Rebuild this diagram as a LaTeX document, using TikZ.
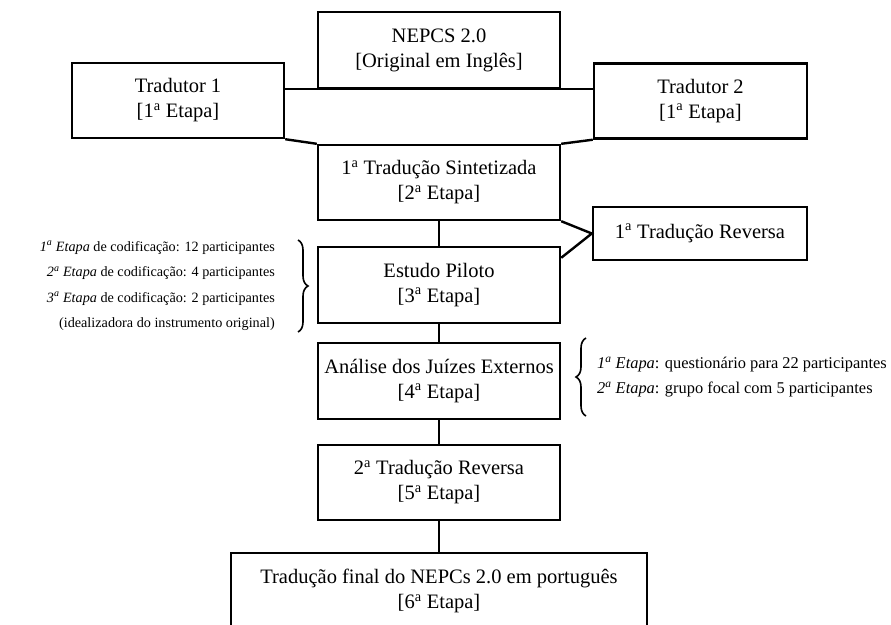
\documentclass[tikz,border=0pt]{standalone}
\usepackage{fontspec}
\setmainfont{Liberation Serif}
\usetikzlibrary{decorations.pathreplacing}
\newcommand{\aord}{\textsuperscript{a}}
\begin{document}
\begin{tikzpicture}
		[x=1pt,y=-1pt,
		etapa/.style={draw,line width=2.4pt,align=center,inner sep=0pt,
			minimum width=242pt,minimum height=76pt,font=\fontsize{20.5}{25}\selectfont},
		nota/.style={inner sep=0pt,font=\fontsize{14.2}{25.5}\selectfont},
		chave/.style={decorate,decoration={brace,amplitude=10pt},line width=1.6pt},
		liga/.style={line width=2.4pt},]
		\useasboundingbox(0,0)rectangle(891,624);
		\clip(0,0)rectangle(891,624);
		\node[etapa](nepcs) at(439,50){NEPCS 2.0\\{}[Original em Inglês]};
		\node[etapa,minimum width=212pt,minimum height=75pt](trad1) at(178,100.5){Tradutor 1\\{}[1\aord\ Etapa]};
		\node[etapa,minimum width=213pt,minimum height=75pt](trad2) at(700.5,101){Tradutor 2\\{}[1\aord\ Etapa]};
		\node[etapa,minimum height=75pt](sint) at(439,182.5){1\aord\ Tradução Sintetizada\\{}[2\aord\ Etapa]};
		\node[etapa,minimum width=214pt,minimum height=53pt](rev1) at(700,233.5){1\aord\ Tradução Reversa};
		\node[etapa](piloto) at(439,285){Estudo Piloto\\{}[3\aord\ Etapa]};
		\node[etapa](juizes) at(439,381){Análise dos Juízes Externos\\{}[4\aord\ Etapa]};
		\node[etapa,minimum height=75pt](rev2) at(439,482.5){2\aord\ Tradução Reversa\\{}[5\aord\ Etapa]};
		\node[etapa,minimum width=416pt](final) at(439,591){Tradução final do NEPCs 2.0 em português\\{}[6\aord\ Etapa]};
		\draw[liga](trad1.east |- nepcs.south)--(trad2.west |- nepcs.south);
		\draw[liga](trad1.south east)--(sint.north west);
		\draw[liga](trad2.south west)--(sint.north east);
		\draw[liga](sint.south)--(piloto.north);
		\draw[liga](sint.south east)--(rev1.west)--([yshift=-12pt]piloto.north east);
		\draw[liga](piloto.south)--(juizes.north);
		\draw[liga](juizes.south)--(rev2.north);
		\draw[liga](rev2.south)--(final.north);
		\node[nota,anchor=east,align=right](codif) at(275,286){\textit{1\aord\ Etapa} de codificação: 12 participantes\\
			\textit{2\aord\ Etapa} de codificação: 4 participantes\\
			\textit{3\aord\ Etapa} de codificação: 2 participantes\\
			(idealizadora do instrumento original)};
		\draw[chave]([xshift=23pt,yshift=46pt]codif.east)--([xshift=23pt,yshift=-46pt]codif.east);
		\node[nota,anchor=west,align=left,font=\fontsize{16.4}{25}\selectfont](grupo) at(597,377){\textit{1\aord\ Etapa}: questionário para 22 participantes\\
			\textit{2\aord\ Etapa}: grupo focal com 5 participantes};
		\draw[chave]([xshift=-11pt,yshift=-39pt]grupo.west)--([xshift=-11pt,yshift=39pt]grupo.west);
	\end{tikzpicture}
\end{document}
